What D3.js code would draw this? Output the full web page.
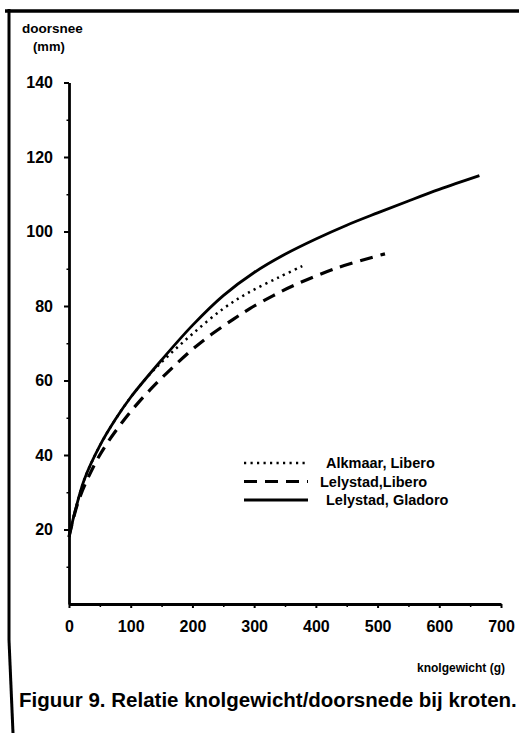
<!DOCTYPE html>
<html>
<head>
<meta charset="utf-8">
<script src="https://cdn.jsdelivr.net/npm/d3@7"></script>
<style>
  body { margin: 0; background: #fff; }
  text { font-family: 'Liberation Sans', Arial, Helvetica, sans-serif; font-weight: bold; fill: #000; }
</style>
</head>
<body>
<div id="chart"></div>
<script>
// data
var gladoroX = [0, 10, 25, 50, 75, 100, 150, 200, 250, 300, 350, 400, 450, 500, 550, 600, 665]
var gladoroY = [18, 25, 33.5, 42.5, 49.5, 55.5, 65.5, 74.8, 82.8, 89, 93.9, 98, 101.7, 105, 108.2, 111.3, 115]

var alkmaarX = [0, 10, 25, 50, 75, 100, 130, 160, 200, 250, 290, 340, 378]
var alkmaarY = [18, 25, 33.5, 42.5, 49.5, 55.5, 61.5, 66.5, 72.5, 79.3, 83.5, 87.7, 90.7]

var liberoX = [0, 15, 40, 60, 85, 112, 139, 166, 199, 231, 266, 293, 331, 364, 434, 512]
var liberoY = [18, 27.5, 37, 42.7, 48.5, 54, 58.8, 63.2, 68.2, 72.4, 76.4, 79.3, 82.8, 85.5, 90.2, 94]

var legendLabels = ['Alkmaar, Libero', 'Lelystad,Libero', 'Lelystad, Gladoro']

var xTicks = [0, 100, 200, 300, 400, 500, 600, 700]
var yTicks = [20, 40, 60, 80, 100, 120, 140]

var width = 519
var height = 733

var svg = d3
  .select('#chart')
  .append('svg')
  .attr('width', width)
  .attr('height', height)

svg.append('rect').attr('width', width).attr('height', height).attr('fill', '#fff')

// frame of the scanned page
svg.append('line')
  .attr('x1', 5).attr('y1', 11).attr('x2', width).attr('y2', 11)
  .attr('stroke', '#000').attr('stroke-width', 3.5)
svg.append('line')
  .attr('x1', 9).attr('y1', 9).attr('x2', 9).attr('y2', 640)
  .attr('stroke', '#000').attr('stroke-width', 3)
svg.append('line')
  .attr('x1', 9).attr('y1', 640).attr('x2', 13).attr('y2', height)
  .attr('stroke', '#000').attr('stroke-width', 3)

var x = d3.scaleLinear().domain([0, 700]).range([69, 501])
var y = d3.scaleLinear().domain([0, 140]).range([604, 82.5])

// minor ticks
svg.append('g')
  .attr('transform', 'translate(' + x(0) + ',0)')
  .call(d3.axisLeft(y).tickValues(d3.range(10, 140, 20)).tickSize(2.5).tickFormat(''))
  .call(g => g.select('.domain').remove())
  .selectAll('line').attr('stroke-width', 1.5)
svg.append('g')
  .attr('transform', 'translate(0,' + y(0) + ')')
  .call(d3.axisBottom(x).tickValues(d3.range(50, 700, 100)).tickSize(3).tickFormat(''))
  .call(g => g.select('.domain').remove())
  .selectAll('line').attr('stroke-width', 1.5)

// y axis
var yAxis = svg.append('g')
  .attr('transform', 'translate(' + x(0) + ',0)')
  .call(d3.axisLeft(y).tickValues(yTicks).tickSize(5).tickPadding(11).tickSizeOuter(0))
yAxis.select('.domain').attr('stroke-width', 2.8)
yAxis.selectAll('.tick line').attr('stroke-width', 2)
yAxis.selectAll('text').style('font-size', '16px').style('font-family', null)

// x axis
var xAxis = svg.append('g')
  .attr('transform', 'translate(0,' + y(0) + ')')
  .call(d3.axisBottom(x).tickValues(xTicks).tickSize(4).tickPadding(13).tickSizeOuter(0))
xAxis.select('.domain').attr('stroke-width', 2.8)
xAxis.selectAll('.tick line').attr('stroke-width', 2)
xAxis.selectAll('text').style('font-size', '16px').style('font-family', null)

// axis titles
svg.append('text').attr('x', 22).attr('y', 33).style('font-size', '13.5px').text('doorsnee')
svg.append('text').attr('x', 33).attr('y', 51).style('font-size', '13px').text('(mm)')
svg.append('text').attr('x', 505).attr('y', 672).attr('text-anchor', 'end')
  .style('font-size', '12px').text('knolgewicht (g)')

// curves
var line = d3.line()
  .x(d => x(d[0]))
  .y(d => y(d[1]))
  .curve(d3.curveCatmullRom.alpha(0.5))

var series = [
  { label: legendLabels[0], xs: alkmaarX, ys: alkmaarY, dash: '2.2,4.3', w: 2.5 },
  { label: legendLabels[1], xs: liberoX, ys: liberoY, dash: '13,8', w: 3.2 },
  { label: legendLabels[2], xs: gladoroX, ys: gladoroY, dash: null, w: 2.8 },
]

series.forEach(function(s) {
  svg.append('path')
    .datum(d3.zip(s.xs, s.ys))
    .attr('d', line)
    .attr('fill', 'none')
    .attr('stroke', '#000')
    .attr('stroke-width', s.w)
    .attr('stroke-dasharray', s.dash)
})

// legend
var legend = svg.append('g')
series.forEach(function(s, i) {
  var ly = 463 + i * 18.5
  legend.append('line')
    .attr('x1', 244).attr('x2', 308).attr('y1', ly).attr('y2', ly)
    .attr('stroke', '#000')
    .attr('stroke-width', s.w)
    .attr('stroke-dasharray', s.dash)
  legend.append('text')
    .attr('x', i == 1 ? 320 : 326)
    .attr('y', ly + 5)
    .style('font-size', '14.5px')
    .text(s.label)
})

// caption
svg.append('text').attr('x', 19).attr('y', 707)
  .style('font-size', '20.5px')
  .text('Figuur 9. Relatie knolgewicht/doorsnede bij kroten.')
</script>
</body>
</html>
